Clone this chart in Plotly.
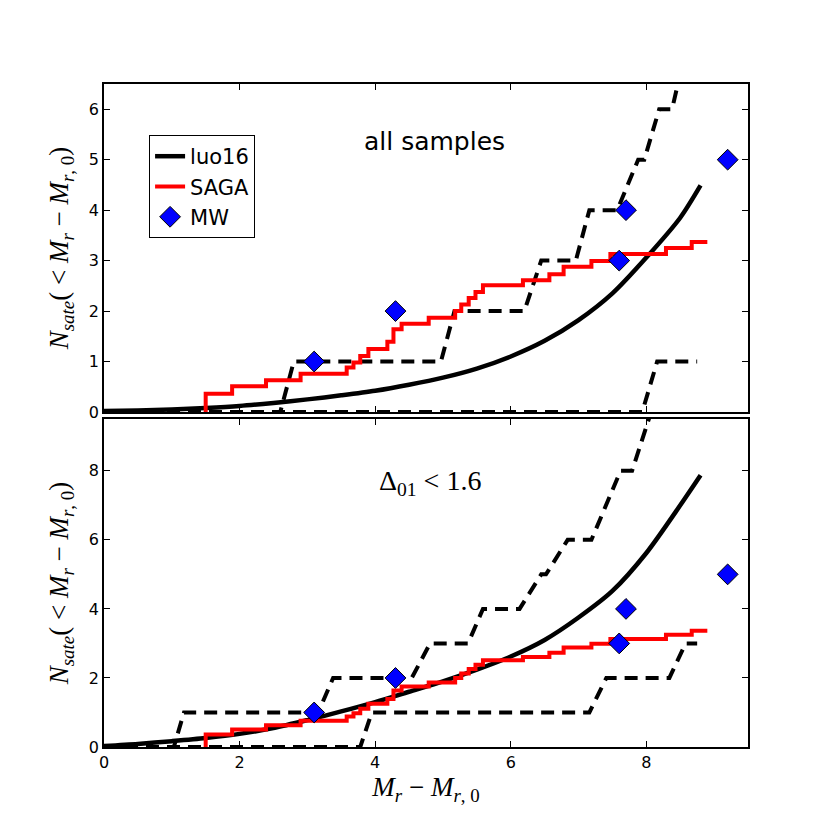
import plotly.graph_objects as go

# --- data ---
# luo16 model curve (same x grid for both panels)
luo_x = [0, 0.5, 1, 1.5, 2, 2.5, 3, 3.5, 4, 4.5, 5, 5.5, 6, 6.5, 7, 7.5, 8, 8.5, 8.8]
luo_all = [0.02, 0.03, 0.05, 0.08, 0.12, 0.18, 0.25, 0.33, 0.42, 0.54, 0.68, 0.86,
           1.10, 1.41, 1.82, 2.35, 3.06, 3.85, 4.49]
luo_d01 = [0.03, 0.09, 0.17, 0.26, 0.38, 0.55, 0.78, 1.03, 1.30, 1.60, 1.90, 2.24,
           2.62, 3.10, 3.75, 4.52, 5.62, 7.00, 7.87]

# SAGA cumulative step function (same in both panels)
saga_x = [1.5, 1.5, 1.89, 2.39, 2.9, 3.58, 3.68, 3.78, 3.9, 4.18, 4.27, 4.39, 4.79,
          5.18, 5.27, 5.38, 5.48, 5.59, 6.18, 6.57, 6.78, 7.19, 7.47, 8.29, 8.67, 8.9]
saga_y = [0, 0.36, 0.51, 0.63, 0.76, 0.88, 0.98, 1.11, 1.25, 1.39, 1.64, 1.75, 1.87,
          2.0, 2.13, 2.26, 2.38, 2.51, 2.61, 2.73, 2.88, 2.99, 3.13, 3.25, 3.37, 3.37]

# dashed scatter envelopes, top panel (all samples)
up_all_x = [0, 2.6, 2.8, 4.97, 5.17, 6.2, 6.45, 6.96, 7.16, 7.57, 7.88, 7.97, 8.19,
            8.38, 8.55, 8.75]
up_all_y = [0, 0, 1, 1, 2, 2, 3, 3, 4, 4, 5, 5, 6, 6, 7, 7]
lo_all_x = [0, 7.94, 8.16, 8.75]
lo_all_y = [0, 0, 1, 1]

# dashed scatter envelopes, bottom panel (Delta_01 < 1.6)
up_d01_x = [0, 1.03, 1.18, 3.16, 3.38, 4.54, 4.81, 5.37, 5.59, 6.13, 6.45, 6.52,
            6.84, 7.19, 7.62, 7.79, 8.12, 8.75]
up_d01_y = [0, 0, 1, 1, 2, 2, 3, 3, 4, 4, 5, 5, 6, 6, 8, 8, 10, 10]
lo_d01_x = [0, 3.78, 3.95, 7.16, 7.41, 8.34, 8.58, 8.75]
lo_d01_y = [0, 0, 1, 1, 2, 2, 3, 3]

# Milky Way satellites
mw_x = [3.1, 4.3, 7.6, 7.7, 9.2]
mw_y = [1, 2, 3, 4, 5]

fig = go.Figure()

panels = [
    ("y", luo_all, up_all_x, up_all_y, lo_all_x, lo_all_y, True),
    ("y2", luo_d01, up_d01_x, up_d01_y, lo_d01_x, lo_d01_y, False),
]
for yax, luo, ux, uy, lx, ly, show in panels:
    xax = "x" if yax == "y" else "x2"
    fig.add_trace(go.Scatter(x=luo_x, y=luo, mode="lines", name="luo16",
                             line=dict(color="black", width=4.5, shape="spline",
                                       smoothing=0.8),
                             xaxis=xax, yaxis=yax, showlegend=show, legendrank=1))
    for dx, dy in [(ux, uy), (lx, ly)]:
        fig.add_trace(go.Scatter(x=dx, y=dy, mode="lines",
                                 line=dict(color="black", width=4, dash="13px,8px"),
                                 xaxis=xax, yaxis=yax, showlegend=False))
    fig.add_trace(go.Scatter(x=saga_x, y=saga_y, mode="lines", name="SAGA",
                             line=dict(color="red", width=4, shape="hv"),
                             xaxis=xax, yaxis=yax, showlegend=show, legendrank=2))
    fig.add_trace(go.Scatter(x=mw_x, y=mw_y, mode="markers", name="MW",
                             marker=dict(symbol="diamond", size=16, color="blue",
                                         line=dict(color="black", width=1)),
                             xaxis=xax, yaxis=yax, showlegend=show, legendrank=3))

ax_common = dict(showline=True, linecolor="black", linewidth=1.5, mirror="ticks",
                 ticks="inside", ticklen=6, tickwidth=1, tickcolor="black",
                 showgrid=False, zeroline=False,
                 tickfont=dict(family="DejaVu Sans", size=16, color="black"))
ytitle = ("<i>N</i><sub><i>sate</i></sub>( &lt; <i>M</i><sub><i>r</i></sub> "
          "&#8722; <i>M</i><sub><i>r</i>, 0</sub>)")
title_font = dict(family="Liberation Serif", size=27, color="black")

fig.update_layout(
    width=830, height=830,
    paper_bgcolor="white", plot_bgcolor="white",
    margin=dict(l=96, r=90, t=76, b=91),
    xaxis=dict(ax_common, domain=[0, 1], range=[0, 9.5], anchor="y",
               showticklabels=False, matches="x2", dtick=2),
    yaxis=dict(ax_common, domain=[0.5053, 1], range=[0, 6.5], anchor="x", dtick=1,
               title=dict(text=ytitle, standoff=12, font=title_font)),
    xaxis2=dict(ax_common, domain=[0, 1], range=[0, 9.5], anchor="y2", dtick=2,
                title=dict(text="<i>M</i><sub><i>r</i></sub> &#8722; <i>M</i><sub><i>r</i>, 0</sub>",
                           standoff=4, font=title_font)),
    yaxis2=dict(ax_common, domain=[0, 0.4947], range=[0, 9.5], anchor="x2", dtick=2,
                title=dict(text=ytitle, standoff=12, font=title_font)),
    legend=dict(x=0.07, y=0.923, xanchor="left", yanchor="top",
                bgcolor="white", bordercolor="black", borderwidth=1,
                font=dict(family="DejaVu Sans", size=21, color="black"),
                traceorder="normal"),
    annotations=[
        dict(text="all samples", x=4.87, y=5.37, xref="x", yref="y", showarrow=False,
             font=dict(family="DejaVu Sans", size=25, color="black")),
        dict(text="&#916;<sub>01</sub> &lt; 1.6", x=4.81, y=7.65, xref="x2", yref="y2",
             showarrow=False,
             font=dict(family="Liberation Serif", size=28, color="black")),
    ],
)

fig.write_html("out.html")
